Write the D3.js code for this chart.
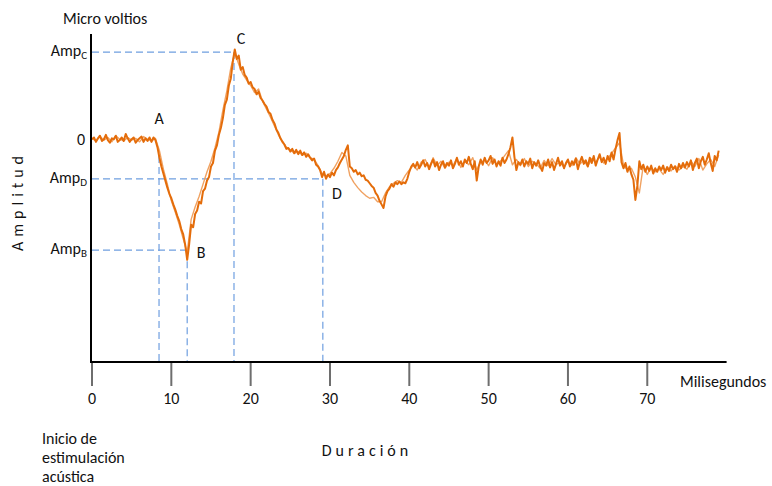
<!DOCTYPE html>
<html>
<head>
<meta charset="utf-8">
<script src="https://cdn.jsdelivr.net/npm/d3@7"></script>
<style>
  body { margin: 0; background: #fff; }
  text { font-family: Carlito, Lato, "Open Sans", sans-serif; fill: #111; }
</style>
</head>
<body>
<div id="chart"></div>
<script>
// sample interval of the recordings (ms)
const dtMain = 0.25;
const dtSecond = 0.5;

// main averaged recording (µV, arbitrary units; Amp C = 10)
const traceMain = [
  0.1, 0.3, -0.2, 0.2, 0.5, -0.1, 0.1, 0.6, 0.0, -0.3, 0.2, 0.1, 0.5, -0.2, 0.0, 0.3, -0.1, 0.7, 0.2, -0.2,
  0.1, 0.3, -0.3, 0.0, 0.2, 0.4, -0.2, 0.2, -0.1, 0.3, -0.2, 0.3, 0.0, -0.8, -2.0, -3.0, -3.8, -4.6, -5.4, -6.1,
  -6.6, -7.3, -7.9, -8.6, -9.2, -10.1, -10.7, -11.9, -13.6, -11.8, -9.6, -9.9, -8.4, -8.0, -7.0, -7.2, -5.8, -5.5, -4.6, -4.2,
  -3.0, -2.6, -1.2, -0.6, 0.6, 1.4, 2.5, 4.0, 4.6, 6.2, 7.0, 8.9, 10.3, 9.2, 9.6, 8.0, 8.3, 7.4, 7.1, 6.4,
  6.6, 6.0, 5.8, 5.2, 5.5, 4.8, 4.5, 4.1, 3.8, 3.2, 3.0, 2.3, 1.9, 1.2, 0.8, 0.2, -0.2, -0.5, -1.0, -0.9,
  -1.3, -1.0, -1.5, -1.1, -1.6, -1.2, -1.7, -1.4, -1.9, -1.6, -2.0, -2.3, -2.1, -2.8, -3.0, -3.4, -4.2, -3.6, -4.4, -3.9,
  -4.2, -3.7, -4.0, -3.4, -3.1, -2.6, -2.2, -1.8, -1.1, -0.6, -3.0, -3.2, -3.6, -3.4, -3.9, -3.7, -4.1, -4.0, -4.5, -4.6,
  -4.9, -5.2, -5.4, -6.0, -6.3, -6.9, -7.3, -7.7, -6.4, -5.8, -5.5, -5.0, -5.3, -4.8, -5.0, -4.7, -5.0, -4.8, -4.9, -4.4,
  -3.6, -3.0, -2.7, -3.1, -2.5, -3.2, -2.8, -2.3, -3.0, -2.6, -3.3, -2.7, -2.2, -3.0, -2.5, -3.4, -2.8, -2.4, -3.1, -2.6,
  -2.9, -2.3, -3.2, -2.7, -2.0, -2.8, -2.4, -3.0, -2.2, -2.6, -1.9, -2.7, -3.3, -2.4, -4.6, -3.0, -2.2, -2.8, -2.0, -2.6,
  -2.3, -1.8, -2.7, -2.2, -3.0, -2.4, -2.9, -2.0, -2.6, -2.2, -1.6, -0.8, 0.3, -1.9, -3.4, -2.5, -2.8, -2.2, -3.0, -2.4,
  -2.7, -2.1, -3.2, -2.5, -2.9, -2.3, -3.0, -3.5, -2.6, -2.9, -2.2, -3.1, -2.5, -3.4, -2.7, -2.0, -2.9, -2.4, -3.2, -2.6,
  -2.2, -3.0, -2.4, -2.8, -2.1, -3.3, -2.5, -1.9, -2.7, -2.3, -3.0, -2.0, -2.6, -1.8, -2.9, -2.2, -1.6, -2.5, -2.0, -2.7,
  -1.8, -2.4, -1.4, -2.2, -1.0, 0.0, 0.8, -2.5, -3.2, -2.6, -3.6, -3.0, -3.9, -4.5, -6.8, -5.2, -2.4, -3.3, -2.8, -3.6,
  -3.0, -3.5, -2.9, -3.8, -3.2, -3.6, -3.0, -3.4, -2.9, -3.7, -3.1, -3.5, -2.8, -3.3, -3.0, -3.6, -2.7, -3.2, -2.6, -3.1,
  -2.5, -3.0, -2.3, -3.4, -2.6, -2.1, -3.2, -2.4, -1.9, -2.8, -2.2, -1.5, -2.6, -3.5, -1.8, -2.3, -1.2
];

// second superimposed recording
const traceSecond = [
  0.2, -0.1, 0.4, 0.0, 0.3, -0.2, 0.5, 0.1, -0.1, 0.3,
  0.0, 0.2, -0.2, 0.4, 0.1, -0.1, 0.2, -1.2, -3.3, -5.0,
  -6.9, -8.2, -9.6, -11.2, -12.8, -9.0, -7.6, -6.4, -5.0, -3.6,
  -2.4, -0.9, 0.9, 3.4, 5.6, 8.2, 9.9, 8.6, 7.5, 6.8,
  6.2, 5.4, 5.8, 4.4, 3.5, 2.6, 1.6, 0.6, -0.1, -0.8,
  -1.1, -1.5, -1.3, -1.7, -1.5, -2.0, -2.2, -2.9, -3.8, -4.1,
  -3.8, -3.2, -2.4, -1.4, -1.8, -4.0, -4.8, -5.4, -5.9, -6.3,
  -6.6, -6.5, -7.0, -7.0, -6.0, -5.3, -4.9, -4.6, -4.8, -4.0,
  -3.4, -2.9, -3.4, -2.5, -2.2, -3.1, -2.0, -2.9, -2.4, -3.2,
  -2.5, -2.9, -2.1, -3.1, -2.4, -2.8, -2.0, -3.4, -2.5, -2.3,
  -2.9, -2.0, -2.8, -2.4, -1.8, -1.2, -2.8, -2.2, -2.9, -2.1,
  -3.0, -2.4, -2.7, -3.2, -2.3, -2.9, -2.1, -2.8, -2.5, -3.1,
  -2.4, -2.9, -2.0, -2.7, -2.3, -3.0, -2.1, -2.5, -1.9, -2.6,
  -2.1, -1.5, -0.9, -0.3, -2.8, -3.4, -3.2, -4.2, -6.0, -2.9,
  -3.9, -3.1, -3.6, -3.3, -3.9, -3.0, -3.5, -2.9, -3.4, -3.0,
  -3.3, -2.4, -3.0, -2.1, -3.4, -2.7, -2.2, -3.0, -1.7
];

// x axis ticks (ms)
const xTicks = [0, 10, 20, 30, 40, 50, 60, 70];

// labelled points of the wave
const pointNames = ["A", "B", "C", "D"];
const pointTimes = [8.45, 12.0, 17.9, 29.1];
const pointValues = [-1.8, -12.5, 10, -4.4];

// amplitude labels on y axis
const ampNames = ["C", "D", "B"];
const ampValues = [10, -4.4, -12.5];
const ampTimes = [17.9, 29.1, 12.0];

const width = 772, height = 486;
const fs = "16px";

const svg = d3.select("#chart")
    .append("svg")
    .attr("width", width)
    .attr("height", height);

const x = d3.scaleLinear().domain([0, 80]).range([92, 726.6]);
const y = d3.scaleLinear().domain([-25.2, 12.05]).range([362, 34]);

const guideColor = "#6f9fe0";

// dashed guides
ampValues.forEach((v, i) => {
    svg.append("line")
        .attr("x1", x(0)).attr("x2", x(ampTimes[i]))
        .attr("y1", y(v)).attr("y2", y(v))
        .attr("stroke", guideColor).attr("stroke-width", 1.2)
        .attr("stroke-dasharray", "7,4");
});
pointTimes.forEach((t, i) => {
    svg.append("line")
        .attr("x1", x(t)).attr("x2", x(t))
        .attr("y1", y(pointValues[i])).attr("y2", y(-25.2))
        .attr("stroke", guideColor).attr("stroke-width", 1.2)
        .attr("stroke-dasharray", "7,4");
});

// traces
const line = dt => d3.line()
    .x((d, i) => x(i * dt))
    .y(d => y(d));

svg.append("path")
    .datum(traceSecond)
    .attr("d", line(dtSecond))
    .attr("fill", "none")
    .attr("stroke", "#f0a262")
    .attr("stroke-width", 1.4)
    .attr("stroke-linejoin", "round");

svg.append("path")
    .datum(traceMain)
    .attr("d", line(dtMain))
    .attr("fill", "none")
    .attr("stroke", "#e46c0a")
    .attr("stroke-width", 2)
    .attr("stroke-linejoin", "round");

// axes
svg.append("line")
    .attr("x1", x(0) - 1).attr("x2", x(0) - 1)
    .attr("y1", y(12.05)).attr("y2", y(-25.2) + 1)
    .attr("stroke", "#000").attr("stroke-width", 2);
svg.append("line")
    .attr("x1", x(0) - 2).attr("x2", x(80))
    .attr("y1", y(-25.2)).attr("y2", y(-25.2))
    .attr("stroke", "#000").attr("stroke-width", 2);

xTicks.forEach(t => {
    svg.append("line")
        .attr("x1", x(t)).attr("x2", x(t))
        .attr("y1", y(-25.2) + 1).attr("y2", y(-25.2) + 24)
        .attr("stroke", "#6e6e6e").attr("stroke-width", 2);
    svg.append("text")
        .attr("x", x(t)).attr("y", 404)
        .attr("text-anchor", "middle")
        .style("font-size", fs)
        .text(t);
});

// y labels
svg.append("text")
    .attr("x", 85).attr("y", y(0) + 5)
    .attr("text-anchor", "end")
    .style("font-size", fs)
    .text("0");

ampNames.forEach((n, i) => {
    const t = svg.append("text")
        .attr("x", 87).attr("y", y(ampValues[i]) + 4)
        .attr("text-anchor", "end")
        .style("font-size", fs);
    t.append("tspan").text("Amp");
    t.append("tspan").attr("dy", 3).style("font-size", "11px").text(n);
});

// point labels
const pointDx = [0, 14, 7, 14];
const pointDy = [-16, 8, -8, 20];
pointNames.forEach((n, i) => {
    const py = i === 0 ? y(0) : y(pointValues[i]);
    svg.append("text")
        .attr("x", x(pointTimes[i]) + pointDx[i])
        .attr("y", py + pointDy[i])
        .attr("text-anchor", "middle")
        .style("font-size", fs)
        .text(n);
});

// titles
svg.append("text")
    .attr("x", 63).attr("y", 24)
    .style("font-size", fs)
    .text("Micro voltios");

svg.append("text")
    .attr("transform", "translate(23,201) rotate(-90)")
    .attr("text-anchor", "middle")
    .style("font-size", fs)
    .style("letter-spacing", "5px")
    .text("Amplitud");

svg.append("text")
    .attr("x", 680).attr("y", 387)
    .style("font-size", fs)
    .text("Milisegundos");

svg.append("text")
    .attr("x", 367).attr("y", 456)
    .attr("text-anchor", "middle")
    .style("font-size", fs)
    .style("letter-spacing", "4px")
    .text("Duración");

["Inicio de", "estimulación", "acústica"].forEach((s, i) => {
    svg.append("text")
        .attr("x", 42).attr("y", 444 + i * 19)
        .style("font-size", fs)
        .text(s);
});
</script>
</body>
</html>
